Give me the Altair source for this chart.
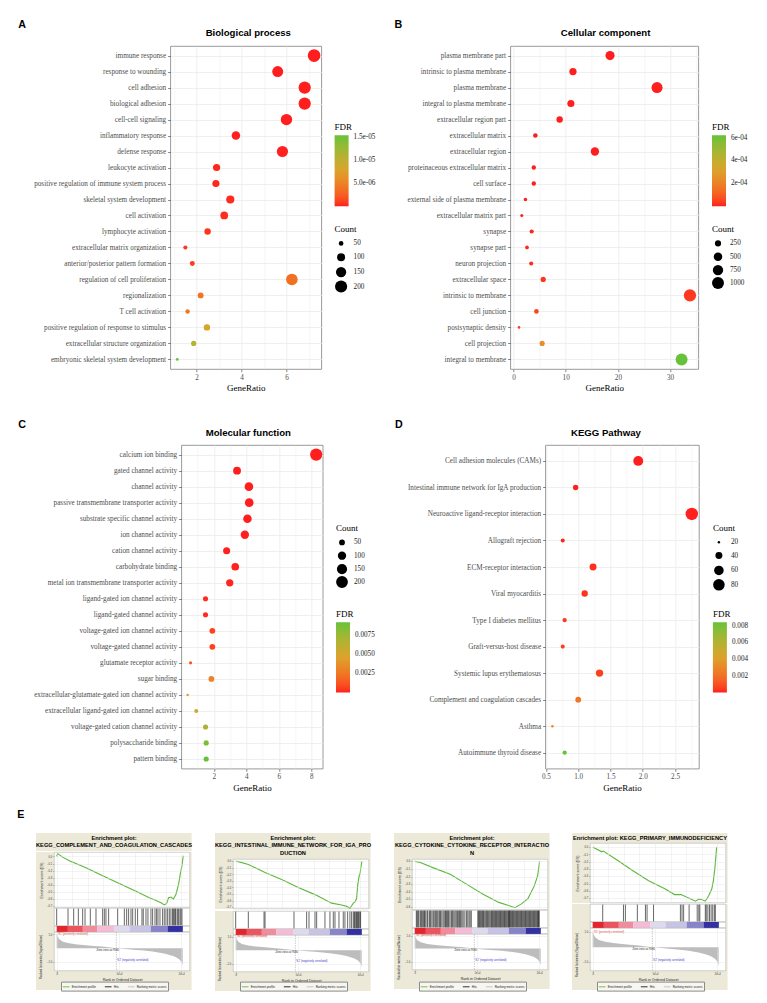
import altair as alt
import pandas as pd

SERIF = "Liberation Serif"
SANS = "Liberation Sans"
FDR_COLORS = ["#FF1E1E", "#DDA22C", "#66C23A"]
GRID = "#EBEBEB"
BEIGE = "#ECE9D8"

# ---------------- A: Biological process ----------------
bp_terms = ["immune response", "response to wounding", "cell adhesion", "biological adhesion",
            "cell-cell signaling", "inflammatory response", "defense response", "leukocyte activation",
            "positive regulation of immune system process", "skeletal system development",
            "cell activation", "lymphocyte activation", "extracellular matrix organization",
            "anterior/posterior pattern formation", "regulation of cell proliferation",
            "regionalization", "T cell activation", "positive regulation of response to stimulus",
            "extracellular structure organization", "embryonic skeletal system development"]
bp_ratio = [7.23, 5.61, 6.81, 6.81, 6.0, 3.75, 5.82, 2.89, 2.86, 3.5, 3.23, 2.49, 1.5, 1.81,
            6.24, 2.18, 1.6, 2.46, 1.87, 1.14]
bp_count = [215, 167, 202, 202, 178, 111, 173, 86, 85, 104, 96, 74, 45, 54, 185, 65, 48, 73, 56, 34]
bp_fdr = [1e-9, 5e-9, 1e-8, 1e-8, 2e-8, 5e-8, 6e-8, 1.5e-7, 2e-7, 3e-7, 3.5e-7, 6e-7, 8e-7,
          9e-7, 3.6e-6, 3.9e-6, 4.1e-6, 8.2e-6, 1.08e-5, 1.54e-5]

# ---------------- B: Cellular component ----------------
cc_terms = ["plasma membrane part", "intrinsic to plasma membrane", "plasma membrane",
            "integral to plasma membrane", "extracellular region part", "extracellular matrix",
            "extracellular region", "proteinaceous extracellular matrix", "cell surface",
            "external side of plasma membrane", "extracellular matrix part", "synapse",
            "synapse part", "neuron projection", "extracellular space", "intrinsic to membrane",
            "cell junction", "postsynaptic density", "cell projection", "integral to membrane"]
cc_ratio = [18.5, 11.4, 27.5, 11.0, 8.85, 4.2, 15.6, 3.9, 3.9, 2.3, 1.6, 3.5, 2.6, 3.4, 5.7,
            33.8, 4.4, 1.07, 5.5, 32.2]
cc_count = [575, 355, 855, 342, 275, 131, 485, 121, 121, 72, 50, 109, 81, 106, 177, 1051, 137,
            33, 171, 1001]
cc_fdr = [1e-30, 1e-20, 1e-25, 1e-18, 1e-12, 1e-10, 1e-12, 1e-9, 1e-8, 1e-7, 1e-6, 5e-6, 1e-5,
          1.5e-5, 2.5e-5, 3e-5, 5e-5, 4e-5, 2.4e-4, 6.2e-4]

# ---------------- C: Molecular function ----------------
mf_terms = ["calcium ion binding", "gated channel activity", "channel activity",
            "passive transmembrane transporter activity", "substrate specific channel activity",
            "ion channel activity", "cation channel activity", "carbohydrate binding",
            "metal ion transmembrane transporter activity", "ligand-gated ion channel activity",
            "ligand-gated channel activity", "voltage-gated ion channel activity",
            "voltage-gated channel activity", "glutamate receptor activity", "sugar binding",
            "extracellular-glutamate-gated ion channel activity",
            "extracellular ligand-gated ion channel activity",
            "voltage-gated cation channel activity", "polysaccharide binding", "pattern binding"]
mf_ratio = [8.30, 3.43, 4.16, 4.18, 4.07, 3.91, 2.79, 3.32, 2.98, 1.49, 1.49, 1.91, 1.91, 0.57,
            1.85, 0.39, 0.92, 1.49, 1.53, 1.53]
mf_count = [216, 89, 108, 109, 106, 102, 73, 86, 77, 39, 39, 50, 50, 15, 48, 10, 24, 39, 40, 40]
mf_fdr = [1e-8, 2e-6, 5e-6, 5e-6, 6e-6, 1e-5, 3e-5, 5e-5, 1e-4, 2e-4, 2e-4, 7e-4, 7e-4, 1.1e-3,
          3.0e-3, 4.4e-3, 5.4e-3, 6.8e-3, 8.5e-3, 9.1e-3]

# ---------------- D: KEGG Pathway ----------------
kg_terms = ["Cell adhesion molecules (CAMs)", "Intestinal immune network for IgA production",
            "Neuroactive ligand-receptor interaction", "Allograft rejection",
            "ECM-receptor interaction", "Viral myocarditis", "Type I diabetes mellitus",
            "Graft-versus-host disease", "Systemic lupus erythematosus",
            "Complement and coagulation cascades", "Asthma", "Autoimmune thyroid disease"]
kg_ratio = [1.93, 0.96, 2.76, 0.76, 1.23, 1.10, 0.79, 0.76, 1.33, 1.0, 0.60, 0.79]
kg_count = [63, 31, 90, 25, 40, 36, 26, 25, 43, 33, 20, 26]
kg_fdr = [2e-6, 1e-5, 3e-5, 1e-4, 2e-4, 3e-4, 4e-4, 5e-4, 6e-4, 2.2e-3, 2.8e-3, 8.4e-3]

# ---------------- E: GSEA enrichment plots ----------------
X_TICKS = [0, 2500, 5000, 7500, 10000, 12500, 15000, 17500, 20000]
MET_TICKS = [1.0, 0.5, 0.0, -0.5, -1.0]
SERIES = ["Enrichment profile", "Hits", "Ranking metric scores"]
SERIES_COLORS = ["#5CB83A", "#111111", "#BDBDBD"]

met_rank = [0, 150, 430, 1000, 2030, 3300, 4710, 6000, 7380, 9580, 11000, 12730, 14000, 15400,
            16300, 17010, 17600, 18080, 18700, 19150, 19680, 20050, 20220]
met_val = [1.12, 0.85, 0.65, 0.48, 0.36, 0.28, 0.22, 0.17, 0.12, 0.0, -0.06, -0.12, -0.17, -0.24,
           -0.30, -0.36, -0.42, -0.48, -0.56, -0.65, -0.8, -1.0, -1.25]
zero_cross = [9580]
ann_text = ["'S1' (positively correlated)", "Zero cross at 9580", "'S2' (negatively correlated)"]
ann_rank = [150, 8200, 12200]
ann_val = [1.08, -0.13, -0.88]

cb_start = [0, 1800, 4200, 6500, 9300, 11700, 15100, 17800]
cb_end = [1800, 4200, 6500, 9300, 11700, 15100, 17800, 20250]
cb_names = ["b1", "b2", "b3", "b4", "b5", "b6", "b7", "b8"]
cb_colors = ["#E3262E", "#EA5560", "#F08C9C", "#F3BCD4", "#DEDAEE", "#C6C3E4", "#8784CA", "#3331A2"]

g1_title = ["Enrichment plot:", "KEGG_COMPLEMENT_AND_COAGULATION_CASCADES"]
g1_rank = [0, 160, 960, 2030, 4710, 7380, 10050, 12730, 14870, 15940, 16740, 17280, 17650, 17970,
           18340, 18720, 19150, 19570, 19890, 20110, 20320]
g1_es = [0.0, 0.04, -0.01, -0.06, -0.16, -0.27, -0.38, -0.49, -0.58, -0.62, -0.65, -0.68, -0.66,
         -0.58, -0.57, -0.60, -0.53, -0.39, -0.22, -0.13, 0.01]
g1_hits = [0, 1820, 2730, 3480, 4170, 4550, 5400, 6310, 7380, 7650, 7910, 8340, 9790, 10860, 11230,
           11550, 11930, 12200, 12620, 12990, 13690, 13900, 14330, 14650, 15130, 15400, 15780, 16040,
           16260, 16580, 17000, 17270, 17540, 17810, 18080, 18340, 18610, 18720, 18880, 19040, 19150,
           19410, 19570, 19790, 19950, 20110]

g2_title = ["Enrichment plot:", "KEGG_INTESTINAL_IMMUNE_NETWORK_FOR_IGA_PRO", "DUCTION"]
g2_rank = [0, 430, 2030, 4710, 7380, 10050, 12730, 15400, 17010, 17810, 18340, 18610, 18880, 19150,
           19410, 19570, 19790, 20000, 20110, 20270]
g2_es = [0.0, -0.005, -0.05, -0.17, -0.28, -0.40, -0.51, -0.64, -0.67, -0.69, -0.72, -0.68, -0.64,
         -0.62, -0.57, -0.38, -0.24, -0.17, -0.08, 0.0]
g2_hits = [0, 2030, 4550, 4710, 9360, 11390, 11770, 12730, 13000, 14330, 15130, 15670, 15940, 16580,
           17270, 17540, 17970, 18340, 18610, 18880, 19040, 19150, 19310, 19410, 19570, 19680,
           19790, 19950, 20050]

g3_title = ["Enrichment plot:", "KEGG_CYTOKINE_CYTOKINE_RECEPTOR_INTERACTIO", "N"]
g3_rank = [0, 1000, 3120, 5710, 8310, 10910, 13510, 15070, 16100, 17140, 18180, 19220, 19740, 20050]
g3_es = [0.0, -0.02, -0.09, -0.17, -0.30, -0.43, -0.54, -0.58, -0.61, -0.56, -0.49, -0.32, -0.19, 0.0]
g3_hits = [260, 390, 520, 650, 880, 1010, 1140, 1300, 1450, 1580, 1710, 1970, 2090, 2340, 2470,
           2600, 2800, 3010, 3220, 3370, 3530, 3700, 3900, 4030, 4160, 4360, 4570, 4750, 4940,
           5060, 5190, 5320, 5450, 5650, 5870, 6000, 6130, 6310, 6490, 6680, 6860, 7000, 7170,
           7300, 7430, 7600, 7790, 8050, 8310, 8520, 8730, 8900, 9090, 10130, 10260, 10390,
           10520, 10650, 10780, 10910, 11040, 11170, 11350, 11530, 11690, 11840, 12030, 12210,
           12340, 12470, 12600, 12730, 12860, 12990, 13120, 13250, 13380, 13510, 13640, 13770,
           13900, 14030, 14160, 14290, 14420, 14550, 14680, 14810, 14960, 15050, 15170, 15250,
           15330, 15460, 15580, 15710, 15840, 15970, 16100, 16230, 16360, 16490, 16620, 16750,
           16880, 17010, 17140, 17270, 17400, 17530, 17660, 17790, 17920, 18050, 18180, 18310,
           18440, 18570, 18700, 18830, 18960, 19090, 19220, 19350, 19480, 19610, 19740, 19820,
           19900, 20000]

g4_title = ["Enrichment plot: KEGG_PRIMARY_IMMUNODEFICIENCY"]
g4_rank = [0, 1455, 1714, 3792, 6390, 8987, 11584, 13143, 14182, 15221, 16519, 17039, 17558, 18078,
           18597, 18857, 19117, 19377, 19636, 19896]
g4_es = [0.0, -0.065, -0.055, -0.17, -0.32, -0.46, -0.57, -0.65, -0.65, -0.69, -0.74, -0.71, -0.72,
         -0.74, -0.67, -0.62, -0.575, -0.46, -0.27, 0.0]
g4_hits = [1610, 4940, 5250, 7170, 8470, 8730, 9770, 14080, 14340, 14600, 15480, 16780, 17040, 17200,
           18080, 18230, 18490, 18750, 19010, 19270, 19530, 19690]

ONE = pd.DataFrame({"k": [0]})
NOSTROKE = alt.ViewBackground(stroke="transparent", strokeWidth=0)


# ======================================================================
def text_layer(txt, x, y, size, weight="bold", font=SANS, align="left", baseline="alphabetic",
               color="black", line_height=None):
    props = dict(font=font, fontSize=size, fontWeight=weight, align=align, baseline=baseline,
                 color=color)
    if line_height is not None:
        props["lineBreak"] = "\n"
        props["lineHeight"] = line_height
    return alt.Chart(pd.DataFrame({"t": [txt]})).mark_text(**props).encode(
        text="t:N", x=alt.value(x), y=alt.value(y))


def spacer(letter=None, lx=0, ly=0):
    box = alt.Chart(ONE).mark_rect(opacity=0).encode(
        x=alt.value(0), x2=alt.value(1), y=alt.value(0), y2=alt.value(1))
    layers = [box]
    if letter:
        layers.append(text_layer(letter, lx, ly, 10.7))
    return alt.layer(*layers).properties(width=1, height=1, view=NOSTROKE)


def dot_panel(letter, title, terms, ratio, count, fdr, width, height, x_domain, x_values,
              major_test, fdr_values, fdr_label_expr, size_range, size_values,
              fdr_pos, count_pos, grad_len, letter_pos, title_pos):
    df = pd.DataFrame({"term": terms, "ratio": ratio, "count": count, "fdr": fdr})

    def cond(a, b):
        return {"condition": {"test": major_test, "value": a}, "value": b}

    x_axis = alt.Axis(values=x_values, labelExpr="(" + major_test + ") ? datum.label : ''",
                      grid=True, gridColor=GRID, gridWidth=cond(0.8, 0.4),
                      tickOpacity=cond(1, 0), tickColor="#333333", tickSize=2.7, tickWidth=0.6,
                      domain=False, labelFont=SERIF, labelFontSize=7.2, labelColor="#4D4D4D",
                      labelPadding=1.5, labelFlush=False, labelOverlap=False,
                      title="GeneRatio", titleFont=SERIF, titleFontSize=9,
                      titleFontWeight="normal", titleColor="black", titlePadding=3)
    y_axis = alt.Axis(title=None, grid=True, gridColor=GRID, gridWidth=0.8, tickColor="#333333",
                      tickSize=2.7, tickWidth=0.6, domain=False, labelFont=SERIF,
                      labelFontSize=7.2, labelColor="#4D4D4D", labelPadding=2, labelLimit=400)
    fdr_leg = alt.Legend(title="FDR", orient="none", legendX=fdr_pos[0], legendY=fdr_pos[1],
                         direction="vertical", gradientLength=grad_len, gradientThickness=14,
                         values=fdr_values, labelExpr=fdr_label_expr, padding=0,
                         titleFont=SERIF, titleFontSize=9, titleFontWeight="normal",
                         titleColor="black", titlePadding=3, labelFont=SERIF,
                         labelFontSize=7.2, labelColor="#1A1A1A", labelOffset=5,
                         gradientStrokeWidth=0)
    size_leg = alt.Legend(title="Count", orient="none", legendX=count_pos[0],
                          legendY=count_pos[1], values=size_values, format="d",
                          symbolType="circle", symbolFillColor="black", symbolStrokeWidth=0,
                          symbolOpacity=1, padding=0, titleFont=SERIF, titleFontSize=9,
                          titleFontWeight="normal", titleColor="black", titlePadding=5.5,
                          labelFont=SERIF, labelFontSize=7.2, labelColor="#1A1A1A",
                          labelOffset=6, rowPadding=0.4, gridAlign="all")
    fmin, fmax = min(fdr), max(fdr)
    pts = alt.Chart(df).mark_circle(opacity=1).encode(
        x=alt.X("ratio:Q", scale=alt.Scale(domain=x_domain, nice=False, zero=False),
                axis=x_axis),
        y=alt.Y("term:N", sort=terms, scale=alt.Scale(padding=0.6), axis=y_axis),
        color=alt.Color("fdr:Q", scale=alt.Scale(domain=[fmin, (fmin + fmax) / 2, fmax],
                                                 range=FDR_COLORS, interpolate="lab"),
                        legend=fdr_leg),
        size=alt.Size("count:Q", scale=alt.Scale(domain=[min(count), max(count)],
                                                 range=size_range, zero=False),
                      legend=size_leg),
    )
    let = text_layer(letter, letter_pos[0], letter_pos[1], 10.7)
    tit = text_layer(title, title_pos[0], title_pos[1], 9.6, align="center")
    return alt.layer(pts, let, tit).properties(width=width, height=height)


A = dot_panel("A", "Biological process", bp_terms, bp_ratio, bp_count, bp_fdr, 151, 323,
              [0.83, 7.55], [1, 2, 3, 4, 5, 6, 7], "datum.value % 2 == 0",
              [5e-6, 1e-5, 1.5e-5], "replace(format(datum.value, '.1e'), 'e-', 'e-0')",
              [8, 160], [50, 100, 150, 200], (164.3, 77.3), (164.3, 179.3), 71,
              (-152, -18.3), (78, -9.7))
B = dot_panel("B", "Cellular component", cc_terms, cc_ratio, cc_count, cc_fdr, 188, 323,
              [-0.6, 35.4], [0, 5, 10, 15, 20, 25, 30, 35], "datum.value % 10 == 0",
              [2e-4, 4e-4, 6e-4], "replace(format(datum.value, '.0e'), 'e-', 'e-0')",
              [7, 150], [250, 500, 750, 1000], (201.7, 77.3), (201.7, 179.3), 71,
              (-115.7, -18.3), (95.3, -9.7))
C = dot_panel("C", "Molecular function", mf_terms, mf_ratio, mf_count, mf_fdr, 141.4, 323.6,
              [0.0, 8.7], [1, 2, 3, 4, 5, 6, 7, 8], "datum.value % 2 == 0",
              [0.0025, 0.005, 0.0075], "format(datum.value, '.4f')",
              [6, 150], [50, 100, 150, 200], (154.7, 165.3), (154.7, 79.3), 70.3,
              (-163, -17.4), (67, -9))
D = dot_panel("D", "KEGG Pathway", kg_terms, kg_ratio, kg_count, kg_fdr, 153.6, 323.6,
              [0.49, 2.87], [0.5, 0.75, 1.0, 1.25, 1.5, 1.75, 2.0, 2.25, 2.5, 2.75],
              "abs(datum.value * 2 - round(datum.value * 2)) < 0.01",
              [0.002, 0.004, 0.006, 0.008], "format(datum.value, '.3f')",
              [6, 155], [20, 40, 60, 80], (167.6, 165.3), (167.6, 79.1), 70.3,
              (-150.4, -17.4), (60.6, -9))

# ======================================================================
W = 136
LM = 18
RM = 1.6
BM = 19
XS = alt.Scale(domain=[-430, 21400], nice=False, zero=False)
SER_SCALE = alt.Scale(domain=SERIES, range=SERIES_COLORS)
G_LEG = alt.Legend(title=None, orient="none", legendX=7, legendY=148.6, direction="horizontal",
                   symbolType="stroke", symbolSize=45, symbolStrokeWidth=1, labelFont=SANS,
                   labelFontSize=3.0, labelColor="#222222", labelOffset=1.5, columnPadding=6,
                   padding=1.2, strokeColor="#8A8A8A", fillColor="#F7F6F0")


def g_axis(**kw):
    base = dict(domain=False, grid=True, gridColor="#E0E0E0", gridWidth=0.4, tickColor="#777777",
                tickSize=1.5, tickWidth=0.4, labelFont=SANS, labelFontSize=2.6,
                labelColor="#333333", labelPadding=0.8, labelFlush=False, labelOverlap=False,
                titleFont=SANS, titleFontWeight="normal", titleColor="#222222", zindex=1)
    base.update(kw)
    return alt.Axis(**base)


def beige(h, bottom=0):
    return alt.Chart(ONE).mark_rect(color=BEIGE).encode(
        x=alt.value(-LM), x2=alt.value(W + RM), y=alt.value(0), y2=alt.value(h + bottom))


def white(h):
    return alt.Chart(ONE).mark_rect(fill="white", stroke="#A8A8A8", strokeWidth=0.5).encode(
        x=alt.value(0.25), x2=alt.value(W - 0.25), y=alt.value(0.25), y2=alt.value(h - 0.25))


def gsea_panel(title_lines, es_rank, es_val, hit_ranks, es_dom, es_ticks, heights, met_dom):
    t_h, es_h, hits_h, cbar_h, met_h = heights
    title = text_layer("\n".join(title_lines), 60, 1.8, 5.7, align="center", baseline="top",
                       line_height=7.6)
    t_chart = alt.layer(beige(t_h), title).properties(width=W, height=t_h, view=NOSTROKE)

    es_df = pd.DataFrame({"rank": es_rank, "es": es_val,
                          "series": ["Enrichment profile"] * len(es_rank)})
    es_line = alt.Chart(es_df).mark_line(strokeWidth=1.1).encode(
        x=alt.X("rank:Q", scale=XS, axis=g_axis(values=X_TICKS, labels=False, ticks=False,
                                                title=None)),
        y=alt.Y("es:Q", scale=alt.Scale(domain=es_dom, nice=False, zero=False),
                axis=g_axis(values=es_ticks, format=".1f", title="Enrichment score (ES)",
                            titleFontSize=3.6, titlePadding=3)),
        color=alt.Color("series:N", scale=SER_SCALE, legend=G_LEG))
    es_chart = alt.layer(beige(es_h), white(es_h), es_line).properties(
        width=W, height=es_h, view=NOSTROKE)

    hits_df = pd.DataFrame({"rank": hit_ranks, "series": ["Hits"] * len(hit_ranks)})
    hits_rule = alt.Chart(hits_df).mark_rule(strokeWidth=0.75, opacity=0.85).encode(
        x=alt.X("rank:Q", scale=XS, axis=None),
        y=alt.value(0.6), y2=alt.value(hits_h - 0.6),
        color=alt.Color("series:N", scale=SER_SCALE, legend=G_LEG))
    hits_chart = alt.layer(beige(hits_h), white(hits_h), hits_rule).properties(
        width=W, height=hits_h, view=NOSTROKE)

    cb_df = pd.DataFrame({"start": cb_start, "end": cb_end, "seg": cb_names})
    cb_rect = alt.Chart(cb_df).mark_rect().encode(
        x=alt.X("start:Q", scale=XS, axis=None), x2="end:Q",
        fill=alt.Fill("seg:N", scale=alt.Scale(domain=cb_names, range=cb_colors), legend=None))
    cb_chart = alt.layer(beige(cbar_h), white(cbar_h), cb_rect).properties(
        width=W, height=cbar_h, view=NOSTROKE)

    met_df = pd.DataFrame({"rank": met_rank, "metric": met_val,
                           "series": ["Ranking metric scores"] * len(met_rank)})
    ms = alt.Scale(domain=met_dom, nice=False, zero=False)
    met_area = alt.Chart(met_df).mark_area(opacity=1).encode(
        x=alt.X("rank:Q", scale=XS, axis=g_axis(values=X_TICKS, format=",",
                                                title="Rank in Ordered Dataset",
                                                titleFontSize=3.6, titlePadding=1.2)),
        y=alt.Y("metric:Q", scale=ms,
                axis=g_axis(values=MET_TICKS, format=".1f",
                            title="Ranked list metric (Signal2Noise)", titleFontSize=3.0,
                            titleX=-12, titleY=met_h / 2 + 5)),
        y2=alt.datum(0),
        color=alt.Color("series:N", scale=SER_SCALE, legend=G_LEG))
    zc = alt.Chart(pd.DataFrame({"rank": zero_cross})).mark_rule(
        strokeDash=[1.2, 1.2], strokeWidth=0.5, color="#8A8A8A").encode(
        x=alt.X("rank:Q", scale=XS), y=alt.value(0.5), y2=alt.value(met_h))
    ann_df = pd.DataFrame({"rank": ann_rank, "metric": ann_val, "label": ann_text})
    ann_colors = ["#E0302A", "#222222", "#3A3AC8"]
    ann_align = ["left", "center", "center"]
    ann_base = ["top", "middle", "middle"]
    anns = []
    for i in range(3):
        anns.append(alt.Chart(ann_df.iloc[[i]]).mark_text(
            font=SANS, fontSize=2.7, color=ann_colors[i], align=ann_align[i],
            baseline=ann_base[i]).encode(
            x=alt.X("rank:Q", scale=XS), y=alt.Y("metric:Q", scale=ms), text="label:N"))
    met_chart = alt.layer(beige(met_h, BM), white(met_h), met_area, zc, *anns).properties(
        width=W, height=met_h, view=NOSTROKE)

    return alt.vconcat(t_chart, es_chart, hits_chart, cb_chart, met_chart,
                       spacing=0).resolve_scale(color="shared")


ES7 = [0.0, -0.1, -0.2, -0.3, -0.4, -0.5, -0.6, -0.7]
ES6 = [0.0, -0.1, -0.2, -0.3, -0.4, -0.5, -0.6]
G1 = gsea_panel(g1_title, g1_rank, g1_es, g1_hits, [-0.724, 0.062], ES7, (18, 56, 18, 6, 39),
                [-1.65, 1.18])
G2 = gsea_panel(g2_title, g2_rank, g2_es, g2_hits, [-0.73, 0.035], ES7, (26, 50, 18, 6, 37),
                [-1.64, 1.15])
G3 = gsea_panel(g3_title, g3_rank, g3_es, g3_hits, [-0.64, 0.03], ES6, (26, 51, 18, 6, 36),
                [-1.64, 1.12])
G4 = gsea_panel(g4_title, g4_rank, g4_es, g4_hits, [-0.765, 0.056], ES7, (10, 60, 18, 6, 43),
                [-1.6, 1.29])

SP = 6.3
row1 = alt.hconcat(spacer(), alt.hconcat(A, B, spacing=17).resolve_scale(
    color="independent", size="independent"), spacing=SP).resolve_scale(
    color="independent", size="independent")
row2 = alt.hconcat(spacer(), alt.hconcat(C, D, spacing=18).resolve_scale(
    color="independent", size="independent"), spacing=SP).resolve_scale(
    color="independent", size="independent")
row3 = alt.hconcat(spacer("E", 1 + SP, -15.5), alt.hconcat(G1, G2, G3, G4, spacing=22)
                   .resolve_scale(color="independent", fill="independent"),
                   spacing=11).resolve_scale(color="independent", fill="independent")
top = alt.vconcat(row1, row2, spacing=25).resolve_scale(color="independent", size="independent")
chart = alt.vconcat(top, row3, spacing=15).resolve_scale(
    color="independent", size="independent", fill="independent").properties(
    padding={"left": 2, "top": 10, "right": 2, "bottom": 2}, background="white"
).configure_view(stroke="#808080", strokeWidth=0.8)

chart.save("out.html", embed_options={"renderer": "svg", "actions": False})
